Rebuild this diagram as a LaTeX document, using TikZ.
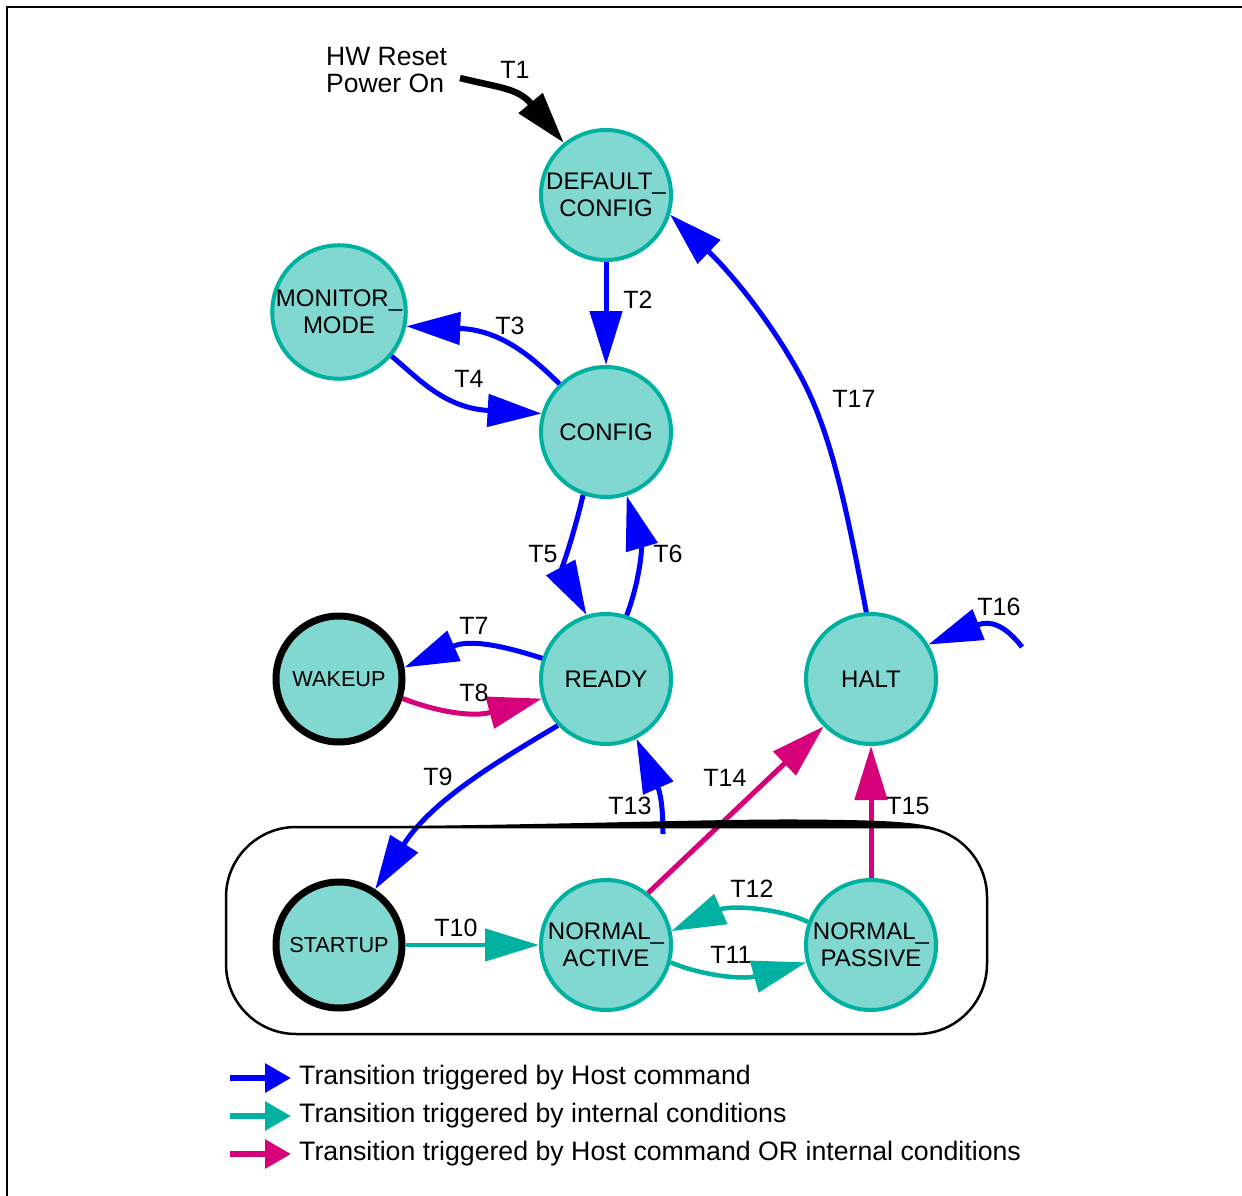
\documentclass[tikz,border=0pt]{standalone}
\usepackage{fontspec}
\setmainfont{Liberation Sans}
\usetikzlibrary{arrows.meta}
\definecolor{hostblue}{RGB}{0,0,255}
\definecolor{intteal}{RGB}{0,176,160}
\definecolor{bothmag}{RGB}{214,0,122}
\definecolor{nodefill}{RGB}{128,216,208}
\begin{document}
\begin{tikzpicture}[x=1pt,y=-1pt,
  state/.style={circle, draw=intteal, fill=nodefill, line width=4pt, minimum size=130pt,
    inner sep=0pt, align=center, font=\fontsize{24}{27}\selectfont},
  initstate/.style={state, draw=black, line width=7pt, minimum size=126pt,
    font=\fontsize{21.7}{26}\selectfont},
  lbl/.style={font=\fontsize{25}{27}\selectfont, inner sep=0pt},
  leglbl/.style={font=\fontsize{26.7}{28}\selectfont, inner sep=0pt, anchor=west},
  tr/.style={line width=5pt, -{Triangle[length=54pt,width=32pt]}},
  host/.style={tr, draw=hostblue},
  intern/.style={tr, line width=4.5pt, draw=intteal},
  both/.style={tr, draw=bothmag},
  reset/.style={line width=6.5pt, draw=black, -{Triangle[length=52pt,width=30pt]}},
  legarrow/.style={line width=6pt, -{Triangle[length=26pt,width=28pt]}}
]
\useasboundingbox (0,0) rectangle (1242,1196);
% frame
\draw[line width=2pt] (1242,7) -- (7,7) -- (7,1196);

% states
\node[state] (dc) at (606,195) {DEFAULT\_\\CONFIG};
\node[state] (mon) at (339,312) {MONITOR\_\\MODE};
\node[state] (cfg) at (606,432) {CONFIG};
\node[state] (rdy) at (606,679) {READY};
\node[initstate] (wak) at (339,679) {WAKEUP};
\node[state] (halt) at (871,679) {HALT};
\node[initstate] (st) at (339,945) {STARTUP};
\node[state] (na) at (606,945) {NORMAL\_\\ACTIVE};
\node[state] (np) at (871,945) {NORMAL\_\\PASSIVE};

% free ends
\coordinate (t1s) at (460,78);
\coordinate (t13s) at (663,834);
\coordinate (t16s) at (1022,647);

% reset text
\node[lbl, font=\fontsize{26.5}{27}\selectfont, align=left, anchor=west] (hw) at (326,70) {HW Reset\\Power On};

% transitions
\draw[reset] (t1s) .. controls (500,88) and (518,88) .. (dc.129);
\draw[host] (dc.270) -- (cfg.90);
\draw[host] (cfg.134) .. controls (530,355) and (500,330) .. (mon.348);
\draw[host] (mon.320) .. controls (420,380) and (445,408) .. (cfg.164);
\draw[host] (cfg.250) .. controls (575,530) and (562,570) .. (rdy.107);
\draw[host] (rdy.72) .. controls (640,580) and (642,548) .. (cfg.288);
\draw[host] (rdy.162) .. controls (510,648) and (472,638) .. (wak.10);
\draw[both] (wak.343) .. controls (432,710) and (470,718) .. (rdy.197);
\draw[host] (rdy.224) .. controls (500,760) and (432,800) .. (st.57);
\draw[intern] (st.0) -- (na.180);
\draw[intern] (na.345) .. controls (700,975) and (742,980) .. (np.195);
\draw[intern] (np.160) .. controls (780,908) and (730,905) .. (na.12);
\draw[host] (t13s) .. controls (663,806) and (660,792) .. (rdy.297);
\draw[both] (na.51) -- (halt.225);
\draw[both] (np.90) -- (halt.270);
\draw[host] (t16s) .. controls (1005,625) and (990,620) .. (halt.31);
\draw[host] (halt.94) .. controls (845,500) and (830,430) .. (800,375)
  .. controls (770,320) and (730,272) .. (dc.343);

% superstate box
\draw[line width=2.5pt, rounded corners=70pt] (226,827) rectangle (987,1034);
\fill (300,827) .. controls (550,825.5) and (700,819) .. (800,819.5)
  .. controls (880,820) and (915,821.5) .. (935,828) -- cycle;

% labels
\node[lbl] (l1) at (515,70) {T1};
\node[lbl] (l2) at (638,300) {T2};
\node[lbl] (l3) at (510,326) {T3};
\node[lbl] (l4) at (469,379) {T4};
\node[lbl] (l5) at (543,554) {T5};
\node[lbl] (l6) at (668,554) {T6};
\node[lbl] (l7) at (474,626) {T7};
\node[lbl] (l8) at (474,693) {T8};
\node[lbl] (l9) at (438,777) {T9};
\node[lbl] (l10) at (456,928) {T10};
\node[lbl] (l11) at (731,955) {T11};
\node[lbl] (l12) at (752,889) {T12};
\node[lbl] (l13) at (630,806) {T13};
\node[lbl] (l14) at (725,778) {T14};
\node[lbl] (l15) at (908,806) {T15};
\node[lbl] (l16) at (999,607) {T16};
\node[lbl] (l17) at (854,399) {T17};

% legend
\coordinate (g1a) at (230,1078); \coordinate (g1b) at (291,1078);
\coordinate (g2a) at (230,1116); \coordinate (g2b) at (291,1116);
\coordinate (g3a) at (230,1154); \coordinate (g3b) at (291,1154);
\draw[legarrow, draw=hostblue] (g1a) -- (g1b);
\draw[legarrow, draw=intteal] (g2a) -- (g2b);
\draw[legarrow, draw=bothmag] (g3a) -- (g3b);
\node[leglbl] (lg1) at (299,1078) {Transition triggered by Host command};
\node[leglbl] (lg2) at (299,1116) {Transition triggered by internal conditions};
\node[leglbl] (lg3) at (299,1154) {Transition triggered by Host command OR internal conditions};
\end{tikzpicture}
\end{document}
